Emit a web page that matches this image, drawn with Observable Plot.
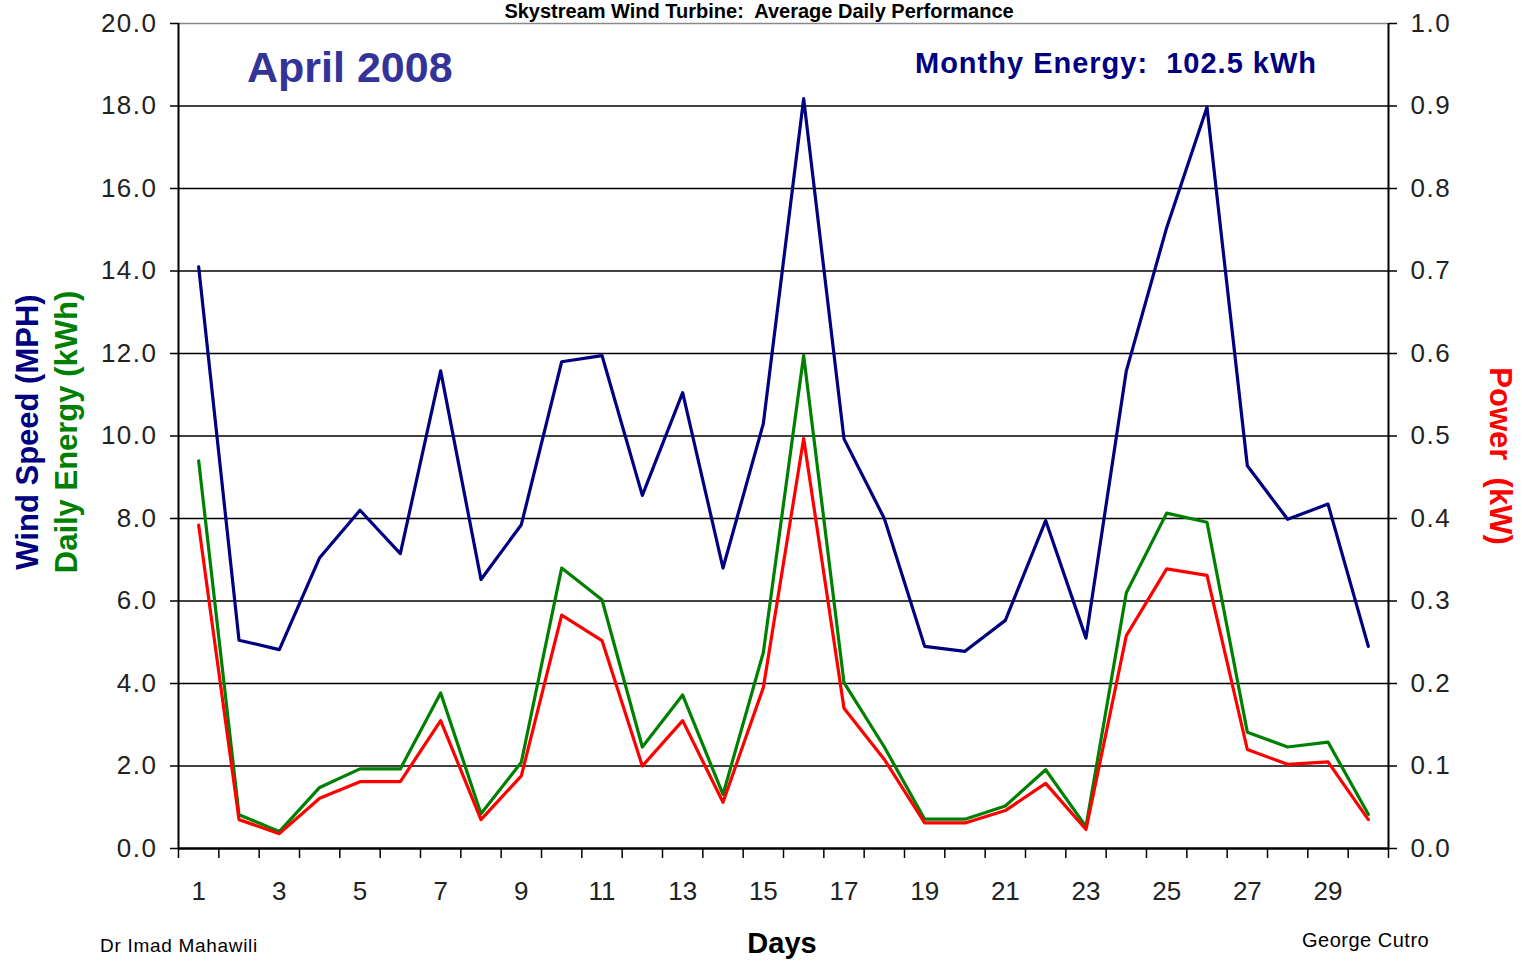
<!DOCTYPE html>
<html>
<head>
<meta charset="utf-8">
<script src="https://cdn.jsdelivr.net/npm/d3@7"></script>
<script src="https://cdn.jsdelivr.net/npm/@observablehq/plot@0.6"></script>
<style>
  html, body { margin: 0; padding: 0; background: #fff; overflow: hidden; }
  #wrap { position: relative; width: 1522px; height: 961px; font-family: "Liberation Sans", Arial, sans-serif; }
  #wrap svg { position: absolute; left: 0; top: 0; }
  #wrap svg g[aria-label="y-axis tick label"] text { letter-spacing: 1.5px; }
  .ann { position: absolute; white-space: pre; line-height: 1; }
  .rot { position: absolute; white-space: pre; line-height: 1; font-weight: bold; font-size: 31px; }
</style>
</head>
<body>
<div id="wrap"></div>
<script>
// ---- Data ----
const days = [1,2,3,4,5,6,7,8,9,10,11,12,13,14,15,16,17,18,19,20,21,22,23,24,25,26,27,28,29,30];
const windSpeedMph = [14.1, 5.05, 4.82, 7.05, 8.2, 7.15, 11.58, 6.52, 7.85, 11.8, 11.95, 8.56, 11.05, 6.8, 10.3, 18.18, 9.93, 8.0, 4.9, 4.78, 5.53, 7.95, 5.1, 11.58, 15.05, 17.97, 9.28, 7.98, 8.35, 4.9];
const dailyEnergyKwh = [9.4, 0.82, 0.41, 1.48, 1.93, 1.93, 3.77, 0.84, 2.09, 6.8, 6.03, 2.46, 3.72, 1.31, 4.75, 11.95, 4.02, 2.46, 0.71, 0.71, 1.03, 1.91, 0.53, 6.2, 8.13, 7.91, 2.82, 2.46, 2.58, 0.83];
const powerKw = [0.392, 0.035, 0.018, 0.061, 0.081, 0.081, 0.155, 0.035, 0.088, 0.283, 0.252, 0.1, 0.155, 0.056, 0.195, 0.497, 0.17, 0.108, 0.031, 0.031, 0.046, 0.079, 0.023, 0.258, 0.339, 0.331, 0.12, 0.102, 0.105, 0.035];
const leftTicks = [0, 2, 4, 6, 8, 10, 12, 14, 16, 18, 20];
const xLabelDays = [1, 3, 5, 7, 9, 11, 13, 15, 17, 19, 21, 23, 25, 27, 29];
const dayBoundaries = [0.5,1.5,2.5,3.5,4.5,5.5,6.5,7.5,8.5,9.5,10.5,11.5,12.5,13.5,14.5,15.5,16.5,17.5,18.5,19.5,20.5,21.5,22.5,23.5,24.5,25.5,26.5,27.5,28.5,29.5,30.5];
const powerRatio = 20; // right axis 0..1 kW maps to left axis 0..20

const rows = days.map((d, i) => ({day: d, wind: windSpeedMph[i], energy: dailyEnergyKwh[i], power: powerKw[i]}));

const fontFam = '"Liberation Sans", Arial, sans-serif';

const chart = Plot.plot({
  width: 1522,
  height: 961,
  marginLeft: 178,
  marginRight: 134,
  marginTop: 23,
  marginBottom: 113,
  style: {fontFamily: fontFam, fontSize: "26px", background: "white", color: "#111"},
  x: {domain: [0.5, 30.5]},
  y: {domain: [0, 20]},
  marks: [
    Plot.ruleY(leftTicks.filter(t => t > 0 && t < 20), {stroke: "#000", strokeWidth: 1.7}),
    Plot.ruleY([20], {stroke: "#888", strokeWidth: 1.5}),
    Plot.axisY({ticks: leftTicks, anchor: "left", tickSize: 8, tickPadding: 13, tickFormat: d => d.toFixed(1), label: null, fontSize: 26, stroke: "#000", strokeWidth: 1.5, fill: "#222"}),
    Plot.axisY({ticks: leftTicks, anchor: "right", tickSize: 8, tickPadding: 14, tickFormat: d => (d / powerRatio).toFixed(1), label: null, fontSize: 26, stroke: "#000", strokeWidth: 1.5, fill: "#222"}),
    Plot.axisX({ticks: dayBoundaries, anchor: "bottom", tickSize: 10, tickFormat: () => "", label: null, stroke: "#000", strokeWidth: 1.5}),
    Plot.axisX({ticks: xLabelDays, anchor: "bottom", tickSize: 0, tickPadding: 33, tickFormat: d => String(d), label: null, fontSize: 26, fill: "#222"}),
    Plot.ruleX([0.5, 30.5], {stroke: "#000", strokeWidth: 2}),
    Plot.ruleY([0], {stroke: "#000", strokeWidth: 2.5}),
    Plot.line(rows, {x: "day", y: "wind", stroke: "#000080", strokeWidth: 3.2}),
    Plot.line(rows, {x: "day", y: "energy", stroke: "#008000", strokeWidth: 3.2}),
    Plot.line(rows, {x: "day", y: d => d.power * powerRatio, stroke: "#ff0000", strokeWidth: 3.2})
  ]
});

const wrap = document.getElementById("wrap");
wrap.appendChild(chart);

function ann(text, css) {
  const el = document.createElement("div");
  el.className = "ann";
  el.textContent = text;
  Object.assign(el.style, css);
  wrap.appendChild(el);
  return el;
}
function rot(text, cx, cy, deg, color) {
  const el = document.createElement("div");
  el.className = "rot";
  el.textContent = text;
  Object.assign(el.style, {left: cx + "px", top: cy + "px", color, transform: `translate(-50%,-50%) rotate(${deg}deg)`});
  wrap.appendChild(el);
}

ann("Skystream Wind Turbine:  Average Daily Performance", {left: "0px", width: "1522px", textAlign: "center", top: "1px", fontSize: "20px", fontWeight: "bold", color: "#000", marginLeft: "-2px"});
ann("April 2008", {left: "247px", top: "46px", fontSize: "43px", fontWeight: "bold", color: "#333399"});
ann("Monthy Energy:  102.5 kWh", {left: "915px", top: "49px", fontSize: "29px", fontWeight: "bold", color: "#000080", letterSpacing: "1px"});
ann("Days", {left: "782px", top: "929px", fontSize: "29px", fontWeight: "bold", color: "#000", transform: "translateX(-50%)"});
ann("Dr Imad Mahawili", {left: "100px", top: "936px", fontSize: "19px", color: "#000", letterSpacing: "0.7px"});
ann("George Cutro", {left: "1302px", top: "930px", fontSize: "20px", color: "#000", letterSpacing: "0.5px"});

rot("Wind Speed (MPH)", 27, 432, -90, "#000080");
rot("Daily Energy (kWh)", 66, 432, -90, "#008000");
rot("Power  (kW)", 1500, 456, 90, "#ff0000");
</script>
</body>
</html>
